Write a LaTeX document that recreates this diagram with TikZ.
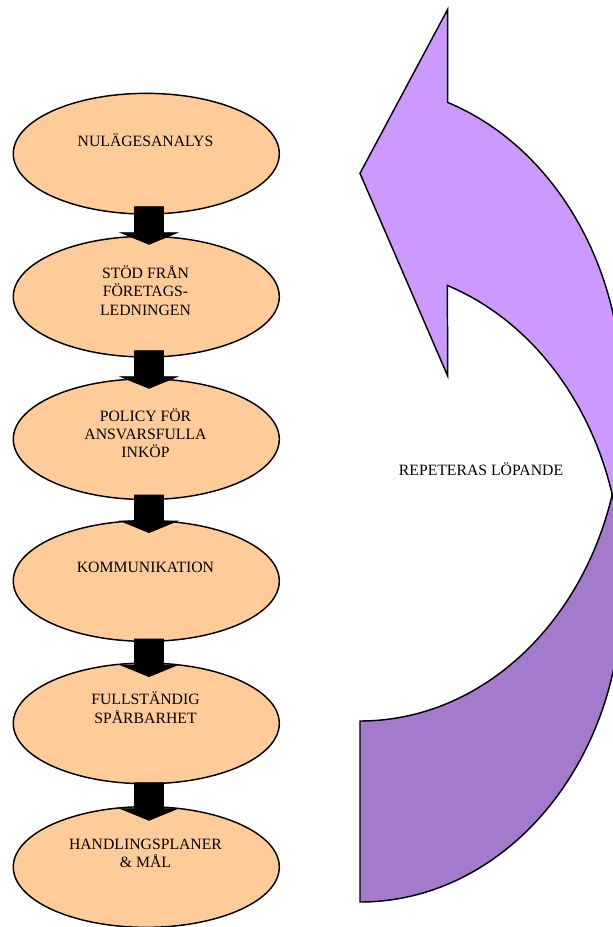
\documentclass[tikz,border=0pt]{standalone}
\usepackage{fontspec}
\setmainfont{Liberation Serif}
\usetikzlibrary{shapes.geometric}
\definecolor{peach}{HTML}{FFCC99}
\definecolor{lilac}{HTML}{CC99FF}
\definecolor{lilacdark}{HTML}{A37ACC}

\begin{document}
\begin{tikzpicture}[x=0.75pt,y=-0.75pt,
  stage/.style={ellipse, draw=black, line width=1.1pt, fill=peach,
    minimum width=199.5pt, minimum height=90.5pt, inner sep=0pt},
  lbl/.style={anchor=base, inner sep=0pt, font=\fontsize{11.8}{13.7}\selectfont},
  outline/.style={draw=black, line width=1.1pt, line join=miter},
  blockarrow/.pic={\filldraw[black, line width=0.6pt, line join=miter]
    (-14.5,0) -- (14.5,0) -- (14.5,26) -- (28.3,26) -- (0,37.6)
    -- (-28.3,26) -- (-14.5,26) -- cycle;}]
\useasboundingbox (0,0) rectangle (613,927);

% curved "repeat" arrow: rear band first, front band with head on top
\begin{scope}
  \clip (0,0) rectangle (613,927);
  \path[outline, fill=lilacdark]
    (360,902) arc[start angle=90, end angle=0, x radius=261.7, y radius=309.3]
    -- (621.7,411.7)
    arc[start angle=0, end angle=90, x radius=261.7, y radius=309.3]
    -- cycle;
  \path[outline, fill=lilac]
    (447.7,102.4) arc[start angle=-70.5, end angle=0, x radius=261.7, y radius=309.3]
    -- (621.7,577)
    arc[start angle=0, end angle=-70.5, x radius=261.7, y radius=309.3]
    -- (447.7,376) -- (360,173.3) -- (447.7,9.3) -- cycle;
\end{scope}
\node[lbl] (rep) at (481,475.2) {REPETERAS LÖPANDE};

% process steps
\node[stage] (e1) at (146.3,153.7) {};
\node[stage] (e2) at (146.3,296.7) {};
\node[stage] (e3) at (146.3,439.2) {};
\node[stage] (e4) at (146.3,581) {};
\node[stage] (e5) at (146.3,723.4) {};
\node[stage] (e6) at (146.3,867) {};

% block arrows between the steps
\coordinate (a1) at (149,206.7);
\coordinate (a2) at (149,350.7);
\coordinate (a3) at (149,495);
\coordinate (a4) at (149,639);
\coordinate (a5) at (149,782.7);
\foreach \a in {a1,a2,a3,a4,a5} \pic at (\a) {blockarrow};

% step labels
\node[lbl] (t1) at (145.5,146.9) {NULÄGESANALYS};
\node[lbl] (t2a) at (145.5,278.5) {STÖD FRÅN};
\node[lbl] (t2b) at (145.5,296.9) {FÖRETAGS-};
\node[lbl] (t2c) at (145.5,315.2) {LEDNINGEN};
\node[lbl] (t3a) at (145.5,421.9) {POLICY FÖR};
\node[lbl] (t3b) at (145.5,439.5) {ANSVARSFULLA};
\node[lbl] (t3c) at (145.5,457.5) {INKÖP};
\node[lbl] (t4) at (145.5,572.9) {KOMMUNIKATION};
\node[lbl] (t5a) at (145.5,704.5) {FULLSTÄNDIG};
\node[lbl] (t5b) at (145.5,723.5) {SPÅRBARHET};
\node[lbl] (t6a) at (145.5,849.2) {HANDLINGSPLANER};
\node[lbl] (t6b) at (145.5,867.9) {\& MÅL};
\end{tikzpicture}
\end{document}
